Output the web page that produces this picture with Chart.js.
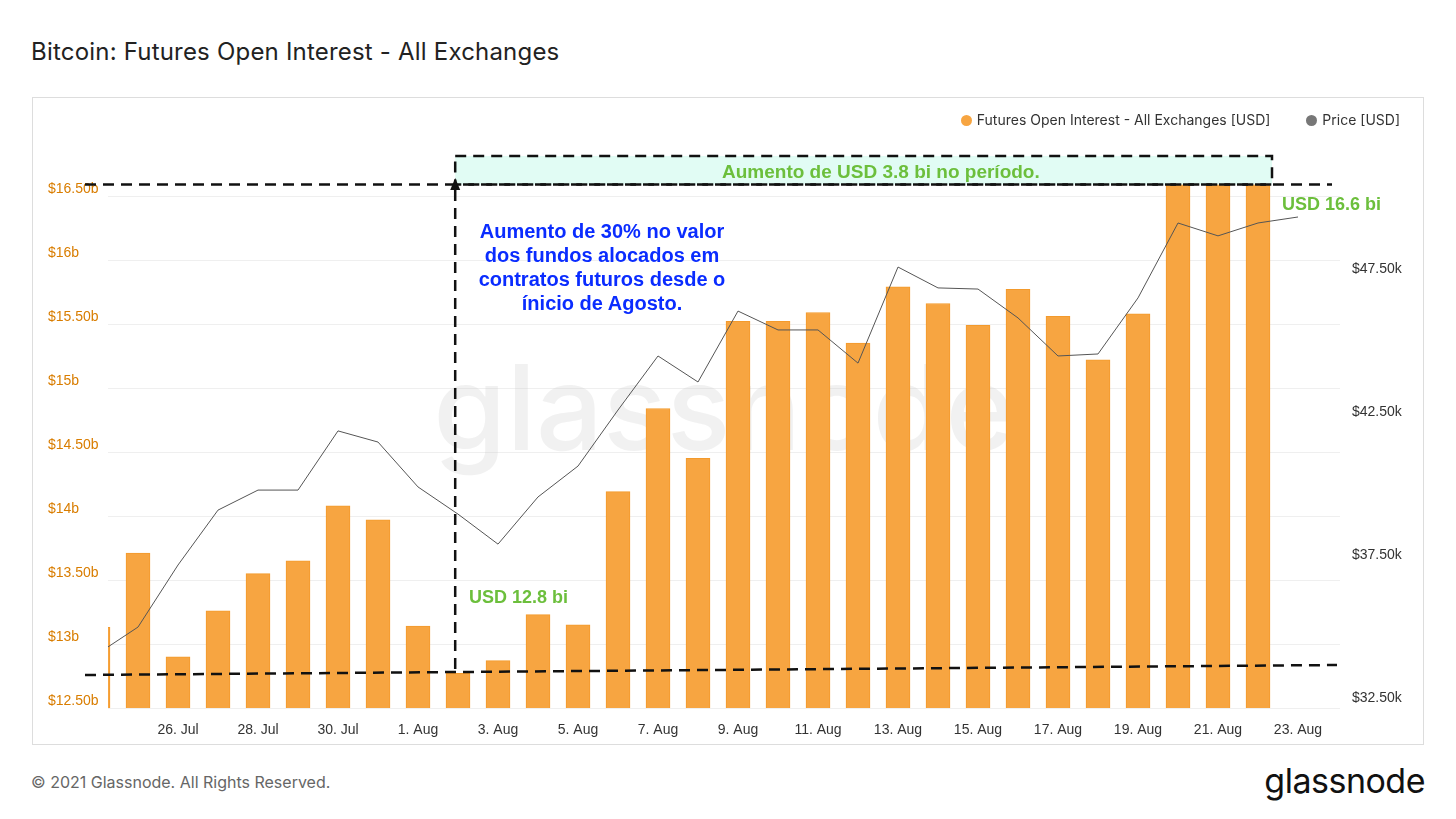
<!DOCTYPE html>
<html><head><meta charset="utf-8">
<script src="https://cdn.jsdelivr.net/npm/chart.js@4"></script>
<style>
body{margin:0;width:1456px;height:819px;background:#fff;font-family:Inter,"Noto Sans",sans-serif;position:relative;overflow:hidden}
#title{position:absolute;left:31px;top:37px;font-size:24px;color:#222;letter-spacing:0.2px}
#card{position:absolute;left:32px;top:97px;width:1390px;height:646px;border:1px solid #ddd}
#cv{position:absolute;left:32px;top:97px}
#foot{position:absolute;left:31px;top:772px;font-size:16px;color:#666}
#logo{position:absolute;right:31px;top:760px;font-size:34px;color:#111;letter-spacing:-0.5px}
#legend{position:absolute;right:56px;top:111px;font-size:14px;color:#333}
.dot{display:inline-block;width:11px;height:11px;border-radius:50%;margin-right:5px;vertical-align:-1px}
.txt{position:absolute;font-family:"Liberation Sans",Arial,sans-serif;font-weight:bold}
</style></head><body>
<div id="title">Bitcoin: Futures Open Interest - All Exchanges</div>
<div id="card"></div>
<canvas id="cv" width="1392" height="648"></canvas>
<div id="legend"><span class="dot" style="background:#f7a541"></span>Futures Open Interest - All Exchanges [USD]<span style="display:inline-block;width:36px"></span><span class="dot" style="background:#777"></span>Price [USD]</div>
<div class="txt" style="left:722px;top:161px;font-size:19px;color:#6cbf3c">Aumento de USD 3.8 bi no período.</div>
<div class="txt" style="left:462px;top:219px;width:280px;text-align:center;font-size:20px;line-height:24px;color:#0a2cff">Aumento de 30% no valor dos fundos alocados em contratos futuros desde o ínicio de Agosto.</div>
<div class="txt" style="left:469px;top:587px;font-size:18px;color:#6cbf3c">USD 12.8 bi</div>
<div class="txt" style="left:1282px;top:194px;font-size:18px;color:#6cbf3c">USD 16.6 bi</div>
<div id="foot">© 2021 Glassnode. All Rights Reserved.</div>
<div id="logo">glassnode</div>
<script>
const dates=["24 Jul","25 Jul","26 Jul","27 Jul","28 Jul","29 Jul","30 Jul","31 Jul","1 Aug","2 Aug","3 Aug","4 Aug","5 Aug","6 Aug","7 Aug","8 Aug","9 Aug","10 Aug","11 Aug","12 Aug","13 Aug","14 Aug","15 Aug","16 Aug","17 Aug","18 Aug","19 Aug","20 Aug","21 Aug","22 Aug","23 Aug"];
const tickLabels=["","","26. Jul","","28. Jul","","30. Jul","","1. Aug","","3. Aug","","5. Aug","","7. Aug","","9. Aug","","11. Aug","","13. Aug","","15. Aug","","17. Aug","","19. Aug","","21. Aug","","23. Aug"];
const openInterest=[13.13,13.71,12.90,13.26,13.55,13.65,14.08,13.97,13.14,12.77,12.87,13.23,13.15,14.19,14.84,14.45,15.52,15.52,15.59,15.35,15.79,15.66,15.49,15.77,15.56,15.22,15.58,16.59,16.59,16.59,null];
const price=[34300,35225,37395,39315,40015,40015,42085,41695,40125,39175,38125,39775,40855,42815,44705,43795,46275,45615,45615,44455,47815,47085,47045,46035,44705,44775,46735,49355,48905,49355,49565];
const leftTicks=[12.5,13,13.5,14,14.5,15,15.5,16,16.5];
const rightTicks=[32500,37500,42500,47500];
const ctx=document.getElementById('cv');
const overlay={id:'overlay',beforeDatasetsDraw(c){const g=c.ctx,a=c.chartArea;g.save();g.font='500 118px Inter, sans-serif';g.fillStyle='rgba(200,200,200,0.25)';g.textAlign='center';g.textBaseline='middle';g.fillText('glassnode',(a.left+a.right)/2,318);g.restore();},
afterDatasetsDraw(c){const g=c.ctx,y=c.scales.y,x=c.scales.x;g.save();g.setLineDash([11,7]);g.lineWidth=2.5;g.strokeStyle='#111';
const yt=y.getPixelForValue(16.59);const bx0=x.getPixelForValue(8.93),bx1=x.getPixelForValue(29.35),by0=59;
g.fillStyle='#e1fcf4';g.fillRect(bx0,by0,bx1-bx0,yt-by0);g.strokeRect(bx0,by0,bx1-bx0,yt-by0);
g.beginPath();g.moveTo(53,yt);g.lineTo(1300,yt);g.stroke();
g.beginPath();g.moveTo(53,578);g.lineTo(1305,568);g.stroke();
g.beginPath();g.moveTo(bx0,572);g.lineTo(bx0,92);g.stroke();
g.setLineDash([]);g.fillStyle='#111';g.beginPath();g.moveTo(bx0-5,93);g.lineTo(bx0+5,93);g.lineTo(bx0,81);g.closePath();g.fill();g.restore();}};
new Chart(ctx,{type:'bar',data:{datasets:[
{type:'line',data:price.map((v,i)=>({x:i,y:v})),yAxisID:'y2',borderColor:'#555',borderWidth:1,pointRadius:0,tension:0,order:0},
{type:'bar',data:openInterest.map((v,i)=>({x:i,y:v})),yAxisID:'y',backgroundColor:'#f7a541',borderColor:'#f39a2c',borderWidth:1,barThickness:24,order:1}]},
options:{responsive:false,animation:false,layout:{padding:{left:16,top:35,right:0,bottom:0}},plugins:{legend:{display:false},tooltip:{enabled:false}},
scales:{x:{type:'linear',offset:false,min:0.25,max:31.05,afterBuildTicks(s){s.ticks=dates.map((d,i)=>({value:i})).slice(1);},afterFit(s){s.height=37;},grid:{display:false,offset:false},border:{display:false},ticks:{autoSkip:false,maxRotation:0,color:'#333',font:{size:14},padding:6,callback:(v)=>tickLabels[v]}},
y:{position:'left',min:12.5,max:17,afterBuildTicks(s){s.ticks=leftTicks.map(v=>({value:v}));},afterFit(s){s.width=60;},grid:{color:'#efefef',drawTicks:false},border:{display:false},ticks:{crossAlign:'far',labelOffset:-7,padding:0,color:'#d97d00',font:{size:14},callback:v=>'$'+(Number.isInteger(v)?v:v.toFixed(2))+'b'}},
y2:{position:'right',min:32395,max:52537,afterBuildTicks(s){s.ticks=rightTicks.map(v=>({value:v}));},afterFit(s){s.width=84;},grid:{display:false},border:{display:false},ticks:{labelOffset:-7,padding:4,color:'#333',font:{size:14},callback:v=>'$'+(v/1000).toFixed(2)+'k'}}}},
plugins:[overlay]});
</script></body></html>
